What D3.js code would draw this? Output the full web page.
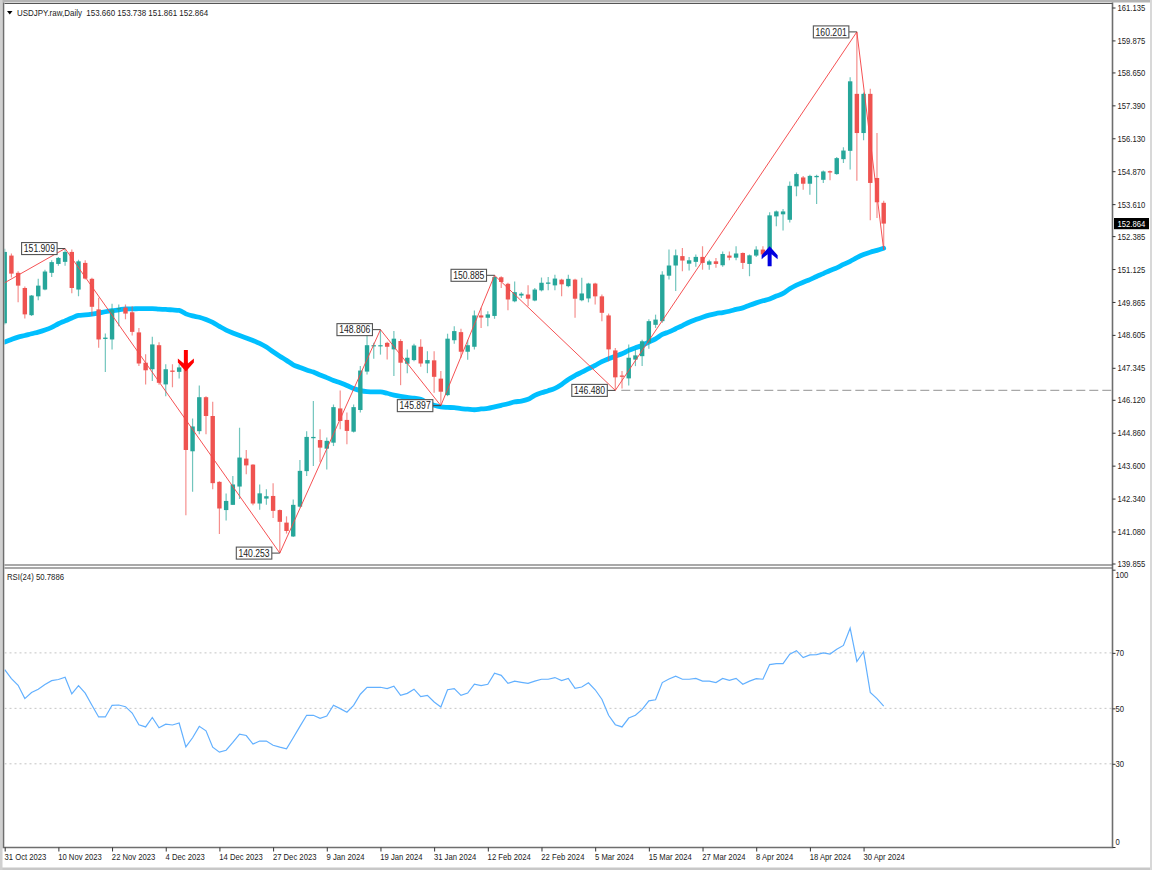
<!DOCTYPE html>
<html>
<head>
<meta charset="utf-8">
<title>USDJPY.raw,Daily</title>
<script src="https://d3js.org/d3.v7.min.js"></script>
<style>
    html, body { margin: 0; padding: 0; background: #fff; overflow: hidden; }
    text { font-family: "Liberation Sans", sans-serif; fill: #222; }
</style>
</head>
<body>
<div id="chart"></div>
<script>
// --- dados ---
const barOpen = [
    149.05,151.64,150.98,150.40,149.36,150.08,150.34,150.98,151.32,151.40,
    151.78,150.34,151.36,150.75,149.58,148.45,148.43,149.58,149.65,149.47,
    148.70,147.54,147.29,148.21,146.71,147.24,147.19,147.55,144.15,144.92,
    146.22,145.50,142.98,141.90,142.10,142.80,143.87,143.64,142.15,142.34,
    142.44,141.90,141.42,140.89,142.03,143.39,144.65,144.58,144.25,144.48,
    145.79,145.35,144.90,145.73,147.20,148.17,148.17,148.30,148.05,148.37,
    147.50,147.64,148.15,147.51,147.63,146.93,146.30,148.40,148.71,147.96,
    148.15,149.35,149.26,149.33,150.81,150.56,149.89,150.11,150.15,149.92,
    150.31,150.56,150.50,150.72,150.47,150.72,149.93,150.00,150.57,150.08,
    149.35,148.01,147.05,146.94,147.66,147.79,148.30,148.99,149.13,150.87,
    151.26,151.62,151.33,151.40,151.59,151.29,151.42,151.27,151.64,151.56,
    151.74,151.32,151.64,151.87,151.74,153.14,153.22,153.01,154.29,154.63,
    154.39,154.64,154.54,154.87,154.76,155.33,155.65,157.83,156.33,157.83,
    154.61,153.660
];
const barClose = [
    151.78,150.95,150.49,149.39,150.11,150.49,151.03,151.39,151.55,151.78,
    150.40,151.42,150.76,149.68,148.43,148.50,149.58,149.63,149.42,148.72,
    147.51,147.25,148.24,146.77,147.29,147.19,147.36,144.20,145.10,146.22,
    145.50,142.93,141.96,142.25,142.88,143.91,143.61,142.15,142.54,142.43,
    141.87,141.45,141.10,142.10,143.40,144.70,144.70,144.29,144.55,145.84,
    145.31,144.93,145.84,147.24,148.21,148.21,148.21,148.15,148.46,147.54,
    147.73,148.20,147.51,147.64,147.00,146.43,148.46,148.75,147.96,148.21,
    149.35,149.27,149.39,150.82,150.63,149.96,150.24,150.18,149.99,150.34,
    150.60,150.61,150.76,150.54,150.75,149.99,150.19,150.57,150.08,149.45,
    148.05,146.98,147.00,147.73,147.82,148.36,149.13,149.19,150.91,151.26,
    151.65,151.45,151.46,151.59,151.36,151.42,151.32,151.70,151.56,151.72,
    151.36,151.65,151.87,151.68,153.18,153.33,153.33,154.31,154.76,154.39,
    154.69,154.69,154.86,154.82,155.37,155.66,158.31,156.33,157.83,154.42,
    153.68,152.864
];
const barHigh = [
    151.90,151.72,151.04,150.46,150.13,150.75,151.10,151.46,151.59,151.909,
    151.87,151.48,151.46,150.79,150.03,148.66,149.80,149.77,149.77,149.70,
    148.87,147.86,148.53,148.32,147.48,147.48,147.48,147.65,145.40,146.67,
    146.26,146.05,143.00,142.53,143.20,145.05,144.20,143.65,142.88,142.70,
    142.93,141.92,141.66,142.30,143.82,144.92,146.07,144.99,144.68,145.94,
    146.48,145.63,145.94,147.41,148.62,148.30,148.806,148.34,148.75,148.44,
    148.05,148.27,148.44,147.98,147.98,147.22,148.65,148.94,148.84,148.42,
    149.54,149.64,149.51,150.885,150.85,150.60,150.65,150.24,150.50,150.40,
    150.80,150.82,150.91,150.75,150.91,150.75,150.79,150.60,150.60,150.15,
    149.42,148.10,147.22,148.24,148.05,148.42,149.20,149.38,151.04,151.87,
    151.87,151.93,151.59,151.68,152.00,151.48,151.55,151.80,151.80,152.00,
    151.76,151.68,152.00,152.00,153.30,153.37,153.42,154.48,154.82,154.69,
    154.73,154.73,154.90,154.90,155.41,155.79,158.47,160.201,157.88,158.03,
    156.33,153.738
];
const barLow = [
    149.00,150.80,149.85,149.23,149.33,149.93,150.31,150.82,151.25,151.25,
    150.20,150.08,150.72,149.33,148.11,147.18,148.05,148.94,149.20,148.58,
    147.41,146.71,146.84,146.70,146.26,146.60,146.94,141.70,142.60,144.80,
    144.80,142.70,140.98,141.50,142.09,142.32,143.27,142.08,141.91,142.10,
    141.60,140.253,141.00,140.87,142.00,143.20,143.59,143.73,143.45,144.35,
    144.99,144.42,144.87,145.63,147.09,147.69,147.85,147.66,147.03,146.68,
    147.14,147.60,147.39,147.14,146.39,145.897,146.26,148.27,147.73,147.65,
    148.05,148.87,148.94,149.22,150.40,149.55,149.85,150.02,149.70,149.89,
    150.27,150.31,150.31,150.08,150.43,149.26,149.89,149.85,149.77,149.13,
    147.60,146.48,146.55,146.67,147.41,147.41,148.07,148.87,149.07,150.72,
    150.28,151.04,151.07,151.21,151.10,151.10,151.17,151.21,151.46,151.46,
    151.13,150.85,151.59,151.60,151.68,152.76,152.60,152.91,153.91,154.16,
    153.97,153.61,154.42,154.52,154.73,155.18,154.93,154.50,156.05,152.99,
    153.08,151.861
];
const maValues = [
    148.33,148.43,148.52,148.58,148.65,148.71,148.79,148.89,149.03,149.14,
    149.25,149.35,149.37,149.40,149.44,149.49,149.53,149.56,149.60,149.60,
    149.61,149.61,149.61,149.59,149.58,149.56,149.54,149.41,149.33,149.28,
    149.19,149.08,148.93,148.79,148.68,148.58,148.49,148.39,148.28,148.14,
    147.96,147.79,147.63,147.46,147.36,147.26,147.18,147.07,146.97,146.86,
    146.77,146.67,146.55,146.47,146.43,146.42,146.42,146.37,146.30,146.25,
    146.21,146.18,146.14,146.01,145.91,145.85,145.83,145.82,145.78,145.76,
    145.74,145.77,145.79,145.85,145.91,145.97,146.04,146.07,146.14,146.29,
    146.39,146.47,146.56,146.71,146.90,147.05,147.18,147.31,147.44,147.58,
    147.69,147.79,147.88,148.01,148.11,148.20,148.33,148.45,148.62,148.72,
    148.84,148.96,149.09,149.19,149.28,149.36,149.42,149.46,149.51,149.58,
    149.64,149.74,149.83,149.91,149.98,150.09,150.19,150.37,150.51,150.62,
    150.72,150.84,150.95,151.07,151.17,151.30,151.42,151.56,151.68,151.77,
    151.84,151.92
];
const rsiValues = [
    64.0,60.7,58.3,53.5,55.7,56.9,58.6,60.0,60.4,61.2,
    55.2,58.2,55.5,51.1,46.9,46.9,51.1,51.2,50.6,48.3,
    44.1,43.3,46.7,43.0,44.3,44.0,44.7,36.1,39.4,43.5,
    41.9,36.0,34.2,34.9,37.7,40.7,40.2,37.1,38.2,38.2,
    36.7,36.0,35.4,39.4,43.5,47.5,47.5,46.4,47.2,51.1,
    49.9,48.6,51.1,55.1,57.6,57.6,57.6,57.1,58.0,54.7,
    55.4,56.9,54.2,54.7,52.3,50.5,56.7,57.1,54.7,55.5,
    58.7,58.2,58.7,62.7,61.9,59.0,59.8,59.4,59.0,59.8,
    60.5,60.5,61.1,60.0,60.8,57.2,57.7,59.2,56.7,53.3,
    47.5,44.1,43.3,46.5,47.5,49.6,52.7,53.1,59.3,60.6,
    61.6,60.5,60.5,60.8,59.8,59.8,59.3,60.8,60.1,60.8,
    58.7,59.8,60.7,60.5,65.8,66.1,66.1,69.5,70.8,68.3,
    69.3,69.4,70.0,69.6,71.3,72.7,78.9,66.9,70.4,55.7,
    53.5,50.7886
];

// zigzag e rótulos dos pontos de virada
const zigzagBars = [0, 9, 41, 56, 65, 73, 91, 127, 131];
const zigzagPrices = [150.60, 151.909, 140.253, 148.806, 145.897, 150.885, 146.480, 160.201, 151.861];
const pivotLabels = ["", "151.909", "140.253", "148.806", "145.897", "150.885", "146.480", "160.201", ""];

const priceTicks = [161.135,159.875,158.650,157.390,156.130,154.870,153.610,152.385,151.125,149.865,148.605,147.345,146.120,144.860,143.600,142.340,141.080,139.855];
const rsiTicks = [100, 70, 50, 30, 0];
const rsiLevels = [70, 50, 30];
const dateLabels = ["31 Oct 2023","10 Nov 2023","22 Nov 2023","4 Dec 2023","14 Dec 2023","27 Dec 2023","9 Jan 2024","19 Jan 2024","31 Jan 2024","12 Feb 2024","22 Feb 2024","5 Mar 2024","15 Mar 2024","27 Mar 2024","8 Apr 2024","18 Apr 2024","30 Apr 2024"];
const dateBarStep = 8;

// setas de sinal (barra, preço da ponta, direção)
const signalBars = [27, 114];
const signalPrices = [147.20, 152.00];
const signalDirs = ["down", "up"];

const dashedLevel = 146.480;
const dashedFromBar = 91;
const lastPrice = 152.864;
const titleText = "USDJPY.raw,Daily  153.660 153.738 151.861 152.864";
const rsiTitle = "RSI(24) 50.7886";

// --- layout ---
const width = 1152, height = 870;
const left = 4.5, right = 1112.5;
const mainTop = 4, mainBottom = 565;
const rsiTop = 568, rsiBottom = 847.5;

const TEAL = "#26a69a", RED = "#ef5350";

const svg = d3.select("#chart").append("svg")
    .attr("width", width).attr("height", height)
    .attr("viewBox", `0 0 ${width} ${height}`)
    .style("display", "block");

const x = d3.scaleLinear().domain([0, 131]).range([4.7, 883.7]);
const y = d3.scaleLinear().domain([139.855, 161.135]).range([563.5, 7.5]);
const yRsi = d3.scaleLinear().domain([0, 100]).range([847, 569.7]);

// a fonte original é estreita: comprime o texto na horizontal
function condense(sel, factor) {
    sel.each(function() {
        d3.select(this)
            .attr("textLength", this.getComputedTextLength() * factor)
            .attr("lengthAdjust", "spacingAndGlyphs");
    });
}

const defs = svg.append("defs");
defs.append("clipPath").attr("id", "clipMain").append("rect")
    .attr("x", left).attr("y", mainTop).attr("width", right - left).attr("height", mainBottom - mainTop);
defs.append("clipPath").attr("id", "clipRsi").append("rect")
    .attr("x", left).attr("y", rsiTop).attr("width", right - left).attr("height", rsiBottom - rsiTop);

// moldura da janela
svg.append("rect").attr("x", 0).attr("y", 0).attr("width", width).attr("height", 2.5).attr("fill", "#b4b4b4");
svg.append("rect").attr("x", 0).attr("y", 867.5).attr("width", width).attr("height", 2.5).attr("fill", "#c8c8c8");
svg.append("rect").attr("x", 0).attr("y", 0).attr("width", 2.5).attr("height", height).attr("fill", "#d0d0d0");
svg.append("rect").attr("x", 1150).attr("y", 0).attr("width", 2).attr("height", height).attr("fill", "#d8d8d8");

// --- painel principal ---
const main = svg.append("g").attr("clip-path", "url(#clipMain)");

main.append("line")
    .attr("x1", x(dashedFromBar) + 6).attr("x2", right)
    .attr("y1", y(dashedLevel)).attr("y2", y(dashedLevel))
    .attr("stroke", "#a8a8a8").attr("stroke-width", 1.3).attr("stroke-dasharray", "9,4");

const maLine = d3.line().x((d, i) => x(i)).y(d => y(d)).curve(d3.curveMonotoneX);
main.append("path").datum(maValues)
    .attr("d", maLine).attr("fill", "none")
    .attr("stroke", "#00bfff").attr("stroke-width", 4.8)
    .attr("stroke-linejoin", "round").attr("stroke-linecap", "round");

const bars = main.selectAll(".bar").data(d3.range(barOpen.length)).enter().append("g").attr("class", "bar");
bars.append("line")
    .attr("x1", i => x(i)).attr("x2", i => x(i))
    .attr("y1", i => y(barHigh[i])).attr("y2", i => y(barLow[i]))
    .attr("stroke", i => barClose[i] >= barOpen[i] ? TEAL : RED)
    .attr("stroke-opacity", 0.65).attr("stroke-width", 1.2);
bars.append("rect")
    .attr("x", i => x(i) - 2.2).attr("width", 4.4)
    .attr("y", i => y(Math.max(barOpen[i], barClose[i])))
    .attr("height", i => Math.max(1.2, Math.abs(y(barOpen[i]) - y(barClose[i]))))
    .attr("fill", i => barClose[i] >= barOpen[i] ? TEAL : RED);

// zigzag
const zigzagLine = d3.line().x(d => x(d[0])).y(d => y(d[1]));
main.append("path").datum(d3.zip(zigzagBars, zigzagPrices))
    .attr("d", zigzagLine).attr("fill", "none")
    .attr("stroke", "#f4484a").attr("stroke-width", 1).attr("stroke-opacity", 0.95);

// setas
const arrowDown = "M0,0 L8,-9 L8,-13 L2,-8 L2,-21.5 L-2,-21.5 L-2,-8 L-8,-13 L-8,-9 Z";
const arrowUp = "M0,0 L8,9 L8,13 L2,8 L2,20 L-2,20 L-2,8 L-8,13 L-8,9 Z";
signalBars.forEach((b, k) => {
    main.append("path")
        .attr("transform", `translate(${x(b)},${y(signalPrices[k])})`)
        .attr("d", signalDirs[k] === "down" ? arrowDown : arrowUp)
        .attr("fill", signalDirs[k] === "down" ? "#ff0000" : "#0000e0");
});

// rótulos dos pivôs
zigzagBars.forEach((b, k) => {
    if (!pivotLabels[k]) return;
    const px = x(b), py = y(zigzagPrices[k]);
    const g = svg.append("g");
    g.append("line").attr("x1", px - 8).attr("x2", px)
        .attr("y1", py).attr("y2", py).attr("stroke", "#444").attr("stroke-width", 1);
    g.append("rect").attr("x", px - 43.5).attr("y", py - 6).attr("width", 35.5).attr("height", 12)
        .attr("fill", "#fff").attr("stroke", "#555").attr("stroke-width", 1.1);
    g.append("text").attr("x", px - 25.7).attr("y", py + 3.6)
        .attr("text-anchor", "middle").attr("font-size", 10.5).text(pivotLabels[k])
        .call(condense, 0.82);
});

// --- painel RSI ---
const rsi = svg.append("g").attr("clip-path", "url(#clipRsi)");
rsi.selectAll(".level").data(rsiLevels).enter().append("line")
    .attr("class", "level")
    .attr("x1", left).attr("x2", right)
    .attr("y1", d => yRsi(d)).attr("y2", d => yRsi(d))
    .attr("stroke", "#c4c4c4").attr("stroke-width", 1).attr("stroke-dasharray", "2,3");
const rsiLine = d3.line().x((d, i) => x(i)).y(d => yRsi(d));
rsi.append("path").datum(rsiValues)
    .attr("d", rsiLine).attr("fill", "none")
    .attr("stroke", "#62b0ff").attr("stroke-width", 1.2);

// --- molduras dos painéis ---
svg.append("path")
    .attr("d", `M${left - 1},2.5 V${rsiBottom} H${right} V2.5`)
    .attr("fill", "none").attr("stroke", "#6e6e6e").attr("stroke-width", 1.6);
svg.append("line").attr("x1", left).attr("x2", right).attr("y1", 3.5).attr("y2", 3.5)
    .attr("stroke", "#555").attr("stroke-width", 1);
svg.append("line").attr("x1", left).attr("x2", right).attr("y1", mainBottom).attr("y2", mainBottom)
    .attr("stroke", "#555").attr("stroke-width", 1.2);
svg.append("line").attr("x1", left).attr("x2", right).attr("y1", rsiTop).attr("y2", rsiTop)
    .attr("stroke", "#555").attr("stroke-width", 1.2);

// --- eixos ---
const priceAxis = d3.axisRight(y).tickValues(priceTicks).tickFormat(d3.format(".3f")).tickSize(3).tickPadding(2);
const gPrice = svg.append("g").attr("transform", `translate(${right},0)`).call(priceAxis);
gPrice.select(".domain").remove();
gPrice.selectAll("line").attr("stroke", "#333");
gPrice.selectAll("text").attr("font-size", 9.6).attr("fill", "#222").call(condense, 0.8);

const rsiAxis = d3.axisRight(yRsi).tickValues(rsiTicks).tickSize(3).tickPadding(0);
const gRsi = svg.append("g").attr("transform", `translate(${right},0)`).call(rsiAxis);
gRsi.select(".domain").remove();
gRsi.selectAll("line").attr("stroke", "#333");
gRsi.selectAll("text").attr("font-size", 9.6).attr("fill", "#222")
    .attr("dy", d => d === 100 ? "0.8em" : d === 0 ? "-0.3em" : "0.32em")
    .call(condense, 0.8);

const dateTicks = dateLabels.map((d, i) => i * dateBarStep);
const dateAxis = d3.axisBottom(x).tickValues(dateTicks).tickFormat((d, i) => dateLabels[i]).tickSize(4).tickPadding(2);
const gDate = svg.append("g").attr("transform", `translate(0,${rsiBottom})`).call(dateAxis);
gDate.select(".domain").remove();
gDate.selectAll("line").attr("stroke", "#333");
gDate.selectAll("text").attr("font-size", 9.6).attr("fill", "#222")
    .attr("text-anchor", "start").attr("x", -0.7).call(condense, 0.8);

// preço atual
svg.append("rect").attr("x", 1114).attr("y", y(lastPrice) - 5.6).attr("width", 35).attr("height", 11.2).attr("fill", "#000");
svg.append("text").attr("x", 1117.5).attr("y", y(lastPrice) + 3.3).attr("font-size", 9.6)
    .style("fill", "#fff").text(d3.format(".3f")(lastPrice)).call(condense, 0.8);

// títulos
svg.append("path").attr("d", "M7,11 L12.5,11 L9.75,14.5 Z").attr("fill", "#000");
svg.append("text").attr("x", 17).attr("y", 16).attr("font-size", 9.6)
    .style("white-space", "pre").text(titleText).call(condense, 0.83);
svg.append("text").attr("x", 7).attr("y", 580).attr("font-size", 9.6).text(rsiTitle).call(condense, 0.81);
</script>
</body>
</html>
